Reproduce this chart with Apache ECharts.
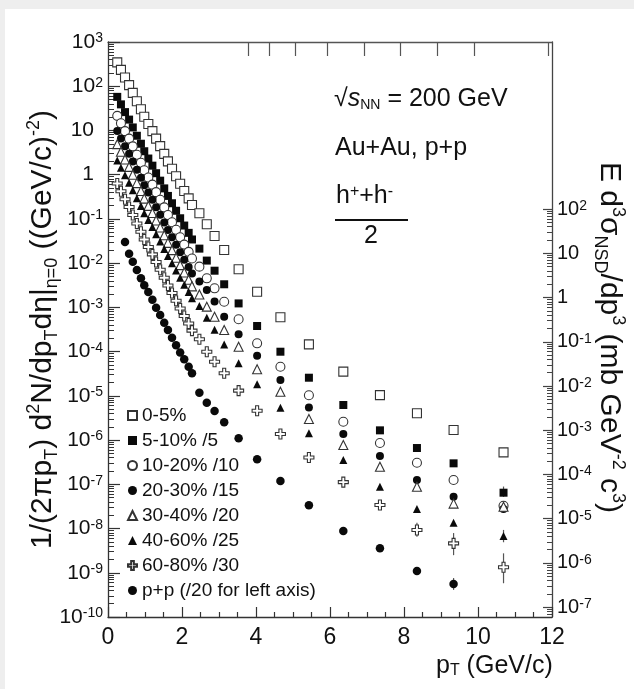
<!DOCTYPE html>
<html><head><meta charset="utf-8">
<script src="https://cdn.jsdelivr.net/npm/echarts@6/dist/echarts.min.js"></script>
<style>html,body{margin:0;padding:0;background:#fff}#c{width:634px;height:689px}</style>
</head><body><div id="c"></div>
<script>
const F = 'Liberation Sans, Arial, Helvetica, sans-serif';
// pT bin centres (GeV/c)
const pT = [0.25,0.35,0.46,0.57,0.67,0.78,0.89,0.98,1.09,1.2,1.3,1.41,1.52,1.62,1.73,1.84,1.95,2.06,2.18,2.27,2.47,2.67,2.88,3.14,3.53,4.03,4.66,5.43,6.36,7.35,8.35,9.34,10.69];
const pTpp = [0.46,0.57,0.67,0.78,0.89,0.98,1.09,1.2,1.3,1.41,1.52,1.62,1.73,1.84,1.95,2.06,2.18,2.27,2.47,2.67,2.88,3.14,3.53,4.03,4.66,5.43,6.36,7.35,8.35,9.34];
// yields (left axis)
const c0_5 = [347,234,157,106,70.8,45.7,30.2,20.4,14.0,9.66,6.53,4.42,2.95,2.0,1.36,0.923,0.624,0.427,0.292,0.207,0.134,0.0755,0.0411,0.0198,0.00726,0.00226,5.97e-4,1.46e-4,3.52e-5,1.04e-5,4.03e-6,1.69e-6,5.28e-7];
const c5_10 = [57.5,38.9,26.0,17.6,11.7,7.59,5.01,3.39,2.32,1.6,1.08,0.733,0.49,0.331,0.226,0.153,0.1035,0.0708,0.0484,0.0343,0.0213,0.01143,0.00675,0.00333,0.00123,3.79e-4,9.95e-5,2.57e-5,6.21e-6,1.66e-6,6.61e-7,2.98e-7,6.46e-8];
const c10_20 = [21.4,14.5,9.66,6.53,4.37,2.82,1.86,1.26,0.861,0.596,0.403,0.272,0.182,0.123,0.0841,0.0569,0.0385,0.0263,0.018,0.01274,0.00834,0.00454,0.0027,0.00134,5.38e-4,1.54e-4,4.56e-5,1.03e-5,2.59e-6,8.59e-7,3.08e-7,1.25e-7,3.27e-8];
const c20_30 = [9.77,6.61,4.42,2.99,2.0,1.29,0.851,0.575,0.394,0.272,0.184,0.124,0.0832,0.0562,0.0385,0.026,0.0176,0.012,0.00822,0.00582,0.00387,0.00247,0.00135,6.15e-4,2.46e-4,8.07e-5,2.28e-5,5.45e-6,1.37e-6,4.37e-7,1.25e-7,5.25e-8,2.75e-8];
const c30_40 = [4.9,3.31,2.21,1.5,1.0,0.646,0.427,0.288,0.197,0.136,0.0923,0.0638,0.0427,0.0288,0.0197,0.0133,0.00902,0.00617,0.00422,0.00299,0.00196,0.00104,6.15e-4,3.08e-4,1.29e-4,3.98e-5,1.24e-5,2.99e-6,7.74e-7,2.5e-7,8.81e-8,3.66e-8,3.12e-8];
const c40_60 = [2.09,1.43,0.966,0.661,0.447,0.295,0.197,0.135,0.0944,0.0661,0.0452,0.0309,0.0209,0.01445,0.01,0.00684,0.00468,0.00324,0.00224,0.0016,0.00107,5.86e-4,3.12e-4,1.44e-4,5.45e-5,1.82e-5,5.4e-6,1.42e-6,3.55e-7,8.83e-8,2.76e-8,1.35e-8,6.78e-9];
const c60_80 = [0.631,0.422,0.279,0.186,0.123,0.0785,0.0513,0.0343,0.0232,0.0158,0.0106,0.00708,0.00468,0.00313,0.00211,0.00141,9.44e-4,6.38e-4,4.32e-4,2.99e-4,1.9e-4,9.95e-5,5.92e-5,3.23e-5,1.31e-5,4.61e-6,1.37e-6,4.03e-7,1.12e-7,3.4e-8,9.27e-9,4.62e-9,1.33e-9];
const ppVals = [0.0302,0.0163,0.0108,0.00703,0.00458,0.00318,0.00222,0.00149,9.84e-4,6.75e-4,4.51e-4,3.07e-4,2.05e-4,1.39e-4,9.53e-5,6.68e-5,4.56e-5,3.24e-5,1.18e-5,7.0e-6,4.54e-6,2.52e-6,1.10e-6,3.67e-7,1.19e-7,3.35e-8,8.8e-9,3.57e-9,1.10e-9,5.57e-10];
// error bars
const errPt = [10.69, 9.34, 8.35, 10.69, 10.69, 9.34];
const errLo = [5.8e-10, 2.5e-9, 6.5e-9, 4.9e-9, 5.2e-8, 4.1e-10];
const errHi = [2.75e-9, 7.9e-9, 1.35e-8, 9.3e-9, 8.9e-8, 7.6e-10];
// axes
const xTicks = [0,2,4,6,8,10,12];
const topTicks = [3.8,4.37,5.07,5.93,6.92,7.91,8.9,9.9,11.89];
const leftMajor = [1e-10,1e-9,1e-8,1e-7,1e-6,1e-5,1e-4,1e-3,1e-2,1e-1,1,10,100,1000];
const rightMajor = [1e-7,1e-6,1e-5,1e-4,1e-3,1e-2,1e-1,1,10,100];
const names = ['0-5%','5-10% /5','10-20% /10','20-30% /15','30-40% /20','40-60% /25','60-80% /30','p+p (/20 for left axis)'];

const leftMinor = [];
for (let e = -10; e <= 2; e++) for (let m = 2; m <= 9; m++) leftMinor.push(m * Math.pow(10, e));
const rightMinor = [];
for (let e = -8; e <= 1; e++) for (let m = 2; m <= 9; m++) { const v = m * Math.pow(10, e); if (v > 6.5e-8 && v < 100) rightMinor.push(v); }

const crossPath = 'path://M3.5,0 H6.5 V3.5 H10 V6.5 H6.5 V10 H3.5 V6.5 H0 V3.5 H3.5 Z';
const openStyle = {color:'#fff', borderColor:'#333', borderWidth:1.1, opacity:1};
const fillStyle = {color:'#0a0a0a', borderWidth:0, opacity:1};

function mk(name, xs, ys, symbol, size, open) {
  return {name, type:'scatter', xAxisIndex:0, yAxisIndex:0, symbol, symbolSize:size,
    itemStyle: open ? openStyle : fillStyle, z:3,
    data: xs.map((x,i)=>[x, ys[i]])};
}

function supFmt(v, bigPad) {
  const n = Math.round(Math.log10(v));
  if (n === 0) return bigPad ? '{n|1}' : '{b|1}';
  if (n === 1) return bigPad ? '{n|10}' : '{b|10}';
  return '{b|10}{s|' + n + '}';
}

const chart = echarts.init(document.getElementById('c'), null, {renderer:'canvas'});
const sup = {fontSize:18, fontFamily:F, color:'#111', verticalAlign:'top', lineHeight:16};
const sub = {fontSize:18, fontFamily:F, color:'#111', verticalAlign:'bottom', lineHeight:16};
chart.setOption({
  animation:false,
  backgroundColor:'#fff',
  grid:{left:108, top:42, width:444, height:575, outerBoundsMode:'none', containLabel:false},
  xAxis:[
    {type:'value', position:'bottom', min:0, max:12, interval:2,
     axisLine:{lineStyle:{color:'#333', width:1.3}},
     axisTick:{inside:true, length:10, lineStyle:{color:'#333', width:1.2}},
     minorTick:{show:true, splitNumber:4, length:5, lineStyle:{color:'#333', width:1.2}},
     splitLine:{show:false},
     axisLabel:{fontSize:23, fontFamily:F, color:'#111', margin:9, customValues:xTicks}},
    {type:'value', position:'top', min:0, max:12,
     axisLine:{lineStyle:{color:'#555', width:1.3}},
     axisTick:{inside:true, length:14, customValues:topTicks, lineStyle:{color:'#555', width:1.2}},
     axisLabel:{show:false}, splitLine:{show:false}}
  ],
  yAxis:[
    {type:'log', position:'left', min:1e-10, max:1e3,
     axisLine:{lineStyle:{color:'#333', width:1.3}},
     axisTick:{inside:true, length:12, customValues:leftMajor, lineStyle:{color:'#333', width:1.2}},
     splitLine:{show:false}, minorTick:{show:false},
     axisLabel:{customValues:leftMajor, margin:5, formatter:v=>supFmt(v,true),
       rich:{b:{fontSize:21, fontFamily:F, color:'#111'}, n:{fontSize:21, fontFamily:F, color:'#111', padding:[0,9,0,0]},
             s:{fontSize:14, fontFamily:F, color:'#111', verticalAlign:'top', lineHeight:12}}},
     name:'{a|1/(2πp}{sub|T}{a|) d}{sup|2}{a|N/dp}{sub|T}{a|dη|}{sub|η=0}{a| ((GeV/c)}{sup|-2}{a|)}',
     nameLocation:'middle', nameGap:47, nameRotate:90, nameMoveOverlap:false,
     nameTextStyle:{fontSize:30, fontFamily:F, color:'#111',
       rich:{a:{fontSize:30, fontFamily:F, color:'#111', lineHeight:36}, sup:sup, sub:sub}}},
    {type:'log', position:'left', min:1e-10, max:1e3,
     axisLine:{show:false}, axisLabel:{show:false}, splitLine:{show:false},
     axisTick:{inside:true, length:6, customValues:leftMinor, lineStyle:{color:'#333', width:1}}},
    {type:'log', position:'right', min:6e-8, max:6e5,
     axisLine:{show:true, lineStyle:{color:'#444', width:1.3}},
     axisTick:{inside:true, length:9, customValues:rightMajor, lineStyle:{color:'#444', width:1.2}},
     splitLine:{show:false},
     axisLabel:{customValues:rightMajor, margin:5, formatter:v=>supFmt(v,false),
       rich:{b:{fontSize:20, fontFamily:F, color:'#111'}, s:{fontSize:14, fontFamily:F, color:'#111', verticalAlign:'top', lineHeight:12}}},
     name:'{a|E d}{sup|3}{a|σ}{sub|NSD}{a|/dp}{sup|3}{a| (mb GeV}{sup|-2}{a| c}{sup|3}{a|)}',
     nameLocation:'middle', nameGap:39, nameRotate:-90, nameMoveOverlap:false,
     nameTextStyle:{fontSize:30, fontFamily:F, color:'#111', padding:[0,0,0,16],
       rich:{a:{fontSize:30, fontFamily:F, color:'#111', lineHeight:36}, sup:sup, sub:sub}}},
    {type:'log', position:'right', min:6e-8, max:6e5,
     axisLine:{show:false}, axisLabel:{show:false}, splitLine:{show:false},
     axisTick:{inside:true, length:5, customValues:rightMinor, lineStyle:{color:'#444', width:1}}}
  ],
  legend:{orient:'vertical', left:122, top:400, itemWidth:9, itemHeight:9, itemGap:4, selectedMode:false,
    data:names, textStyle:{fontSize:19, fontFamily:F, color:'#111', lineHeight:21}},
  series:[
    {type:'custom', xAxisIndex:0, yAxisIndex:0, z:2, silent:true,
     data: errPt.map((x,i)=>[x, errLo[i], errHi[i]]),
     renderItem:(params, api)=>{
       const a = api.coord([api.value(0), api.value(1)]);
       const b = api.coord([api.value(0), api.value(2)]);
       return {type:'line', shape:{x1:a[0], y1:a[1], x2:b[0], y2:b[1]}, style:{stroke:'#555', lineWidth:1.2}};
     }},
    mk(names[0], pT, c0_5, 'rect', 9, true),
    mk(names[1], pT, c5_10, 'rect', 8, false),
    mk(names[2], pT, c10_20, 'circle', 9, true),
    mk(names[3], pT, c20_30, 'circle', 8, false),
    mk(names[4], pT, c30_40, 'triangle', 9, true),
    mk(names[5], pT, c40_60, 'triangle', 8, false),
    mk(names[6], pT, c60_80, crossPath, 10, true),
    mk(names[7], pTpp, ppVals, 'circle', 8.5, false)
  ],
  graphic:[
    {type:'rect', left:0, top:0, shape:{width:634, height:9}, style:{fill:'#eeeeee'}},
    {type:'rect', left:0, top:0, shape:{width:5, height:689}, style:{fill:'#eeeeee'}},
    {type:'text', left:334, top:87, style:{text:'{r|√}{i|s}{sb|NN}{m| = 200 GeV}',
      rich:{r:{fontSize:25, fontFamily:F, fill:'#111'}, i:{fontSize:25, fontFamily:F, fontStyle:'italic', fill:'#111'},
            sb:{fontSize:14, fontFamily:F, fill:'#111', verticalAlign:'bottom', lineHeight:12},
            m:{fontSize:25, fontFamily:F, fill:'#111'}}}},
    {type:'text', left:335, top:136, style:{text:'Au+Au, p+p', fontSize:25, fontFamily:F, fill:'#111'}},
    {type:'text', left:336, top:184, style:{text:'{m|h}{s|+}{m|+h}{s|-}',
      rich:{m:{fontSize:25, fontFamily:F, fill:'#111'}, s:{fontSize:16, fontFamily:F, fill:'#111', verticalAlign:'top', lineHeight:12}}}},
    {type:'line', shape:{x1:335, y1:220, x2:408, y2:220}, style:{stroke:'#111', lineWidth:2}},
    {type:'text', left:364, top:224, style:{text:'2', fontSize:25, fontFamily:F, fill:'#111'}},
    {type:'text', left:436, top:654, style:{text:'{m|p}{s|T}{m| (GeV/c)}',
      rich:{m:{fontSize:25, fontFamily:F, fill:'#111'}, s:{fontSize:16, fontFamily:F, fill:'#111', verticalAlign:'bottom', lineHeight:12}}}}
  ]
});
</script></body></html>
